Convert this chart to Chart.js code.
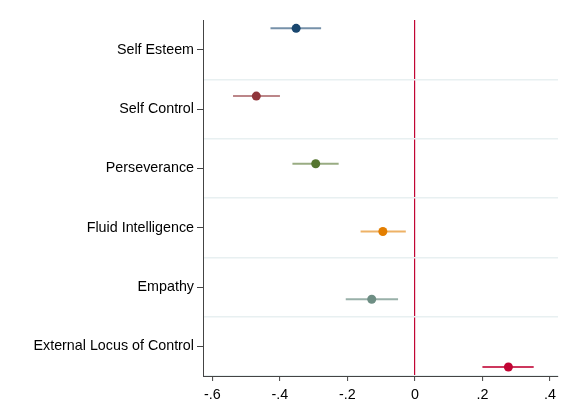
<!DOCTYPE html>
<html>
<head>
<meta charset="utf-8">
<script src="https://cdn.jsdelivr.net/npm/chart.js@4/dist/chart.umd.min.js"></script>
<style>
  html, body { margin: 0; padding: 0; background: #fff; }
  #wrap { width: 567px; height: 416px; }
</style>
</head>
<body>
<div id="wrap"><canvas id="coefChart"></canvas></div>
<script>
// data
const categories = ['Self Esteem', 'Self Control', 'Perseverance', 'Fluid Intelligence', 'Empathy', 'External Locus of Control'];
const estimates = [-0.352, -0.470, -0.294, -0.095, -0.128, 0.277];
const ciLow = [-0.428, -0.539, -0.363, -0.161, -0.205, 0.200];
const ciHigh = [-0.278, -0.400, -0.226, -0.027, -0.050, 0.352];
const xTicks = [-0.6, -0.4, -0.2, 0, 0.2, 0.4];

const markerColors = ['#1a476f', '#90353b', '#55752f', '#e37e00', '#6e8e84', '#c10534'];
const ciColors = ['rgba(26,71,111,0.6)', 'rgba(144,53,59,0.6)', 'rgba(85,117,47,0.6)',
                  'rgba(227,126,0,0.6)', 'rgba(110,142,132,0.7)', 'rgba(193,5,52,0.8)'];

const fmt = v => {
  if (Math.abs(v) < 1e-9) return '0';
  const s = Math.abs(v).toFixed(1).replace(/^0/, '');
  return (v < 0 ? '-' : '') + s;
};

const pointSet = {
  type: 'scatter',
  label: 'estimate',
  data: estimates.map((v, i) => ({ x: v, y: i + 1 })),
  backgroundColor: markerColors,
  borderColor: markerColors,
  pointRadius: 4.5,
  borderWidth: 0,
  order: 0
};

const ciSets = categories.map((c, i) => ({
  type: 'line',
  label: c,
  data: [{ x: ciLow[i], y: i + 1 }, { x: ciHigh[i], y: i + 1 }],
  borderColor: ciColors[i],
  borderWidth: 2,
  pointRadius: 0,
  fill: false,
  order: 1
}));

new Chart('coefChart', {
  type: 'scatter',
  data: { datasets: [pointSet].concat(ciSets) },
  options: {
    responsive: true,
    maintainAspectRatio: false,
    animation: false,
    layout: { padding: { top: 20, right: 9, left: 0, bottom: 0 } },
    plugins: { legend: { display: false }, tooltip: { enabled: false } },
    scales: {
      x: {
        type: 'linear',
        min: -0.628,
        max: 0.424,
        afterBuildTicks: s => { s.ticks = xTicks.map(v => ({ value: v })); },
        afterFit: s => { s.height = 40; },
        border: { color: '#444', width: 1 },
        grid: {
          color: ctx => (ctx.tick && ctx.tick.value === 0) ? '#c10534' : 'rgba(0,0,0,0)',
          lineWidth: 1.2,
          tickColor: '#444',
          tickLength: 5,
          tickWidth: 1
        },
        ticks: {
          color: '#000',
          padding: 5,
          maxRotation: 0,
          font: { family: 'Liberation Sans, Arial, sans-serif', size: 14.3 },
          callback: v => fmt(v)
        }
      },
      y: {
        type: 'linear',
        display: false,
        reverse: true,
        min: 0.877,
        max: 6.133
      },
      yCat: {
        type: 'category',
        position: 'left',
        labels: categories,
        offset: true,
        afterFit: s => { s.width = 203; },
        border: { color: '#444', width: 1 },
        grid: {
          drawOnChartArea: false,
          offset: false,
          tickColor: '#444',
          tickLength: 6,
          tickWidth: 1
        },
        ticks: {
          color: '#000',
          padding: 3,
          font: { family: 'Liberation Sans, Arial, sans-serif', size: 14.3 }
        }
      },
      ySep: {
        type: 'category',
        position: 'left',
        labels: categories,
        offset: true,
        afterFit: s => { s.width = 0; },
        border: { display: false },
        grid: {
          offset: true,
          drawTicks: false,
          color: ctx => ctx.index === 0 ? 'rgba(0,0,0,0)' : '#e8f0f1',
          lineWidth: 1.5
        },
        ticks: { display: false }
      }
    }
  }
});
</script>
</body>
</html>
